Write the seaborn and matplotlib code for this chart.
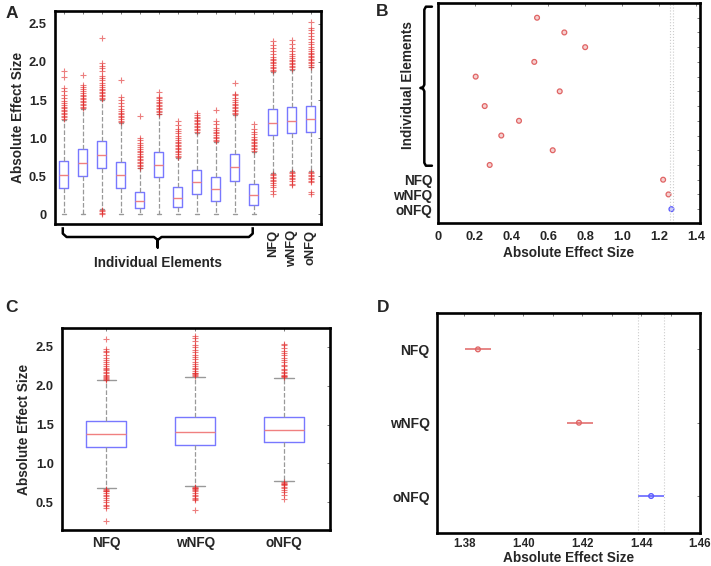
import numpy as np
import pandas as pd
import matplotlib
matplotlib.use("Agg")
import matplotlib.pyplot as plt
import matplotlib.transforms as mtransforms
from matplotlib.ticker import MultipleLocator
import seaborn as sns

# ---------------- data ----------------
# Panel A: 11 individual elements + NFQ, wNFQ, oNFQ
A_labels = ["", "", "", "", "", "", "", "", "", "", "", "NFQ", "wNFQ", "oNFQ"]
A_q1 = [0.34, 0.50, 0.60, 0.34, 0.08, 0.486, 0.10, 0.263, 0.17, 0.438, 0.114, 1.04, 1.064, 1.08]
A_med = [0.52, 0.67, 0.775, 0.517, 0.175, 0.652, 0.21, 0.425, 0.324, 0.613, 0.25, 1.204, 1.23, 1.248]
A_q3 = [0.696, 0.85, 0.96, 0.683, 0.29, 0.815, 0.355, 0.578, 0.486, 0.784, 0.394, 1.38, 1.405, 1.423]
A_wlo = [0.0, 0.0, 0.07, 0.0, 0.0, 0.0, 0.0, 0.0, 0.0, 0.0, 0.0, 0.54, 0.57, 0.57]
A_whi = [1.24, 1.38, 1.50, 1.20, 0.60, 1.31, 0.74, 1.07, 0.95, 1.30, 0.82, 1.87, 1.90, 1.93]
A_fliers = [
    [1.25, 1.27, 1.29, 1.31, 1.33, 1.35, 1.37, 1.39, 1.41, 1.43, 1.46, 1.49, 1.52, 1.57, 1.62, 1.66, 1.80, 1.88],
    [1.39, 1.41, 1.43, 1.45, 1.47, 1.49, 1.51, 1.53, 1.55, 1.57, 1.59, 1.62, 1.64, 1.67, 1.70, 1.83],
    [1.51, 1.53, 1.55, 1.57, 1.59, 1.61, 1.63, 1.65, 1.67, 1.70, 1.73, 1.76, 1.79, 1.82, 1.88, 1.92, 1.95, 1.98, 2.31,
     0.00, 0.02, 0.04, 0.05],
    [1.21, 1.23, 1.25, 1.27, 1.29, 1.31, 1.33, 1.35, 1.38, 1.42, 1.46, 1.50, 1.54, 1.76],
    [0.61, 0.63, 0.65, 0.67, 0.69, 0.71, 0.73, 0.75, 0.77, 0.79, 0.81, 0.83, 0.85, 0.88, 0.91, 0.94, 0.97, 1.00, 1.29],
    [1.32, 1.34, 1.36, 1.38, 1.40, 1.42, 1.44, 1.46, 1.48, 1.50, 1.52, 1.54, 1.61],
    [0.75, 0.77, 0.79, 0.81, 0.83, 0.85, 0.87, 0.89, 0.91, 0.93, 0.95, 0.97, 1.00, 1.03, 1.06, 1.09, 1.12, 1.17, 1.22],
    [1.08, 1.10, 1.12, 1.14, 1.16, 1.18, 1.20, 1.22, 1.24, 1.26, 1.28, 1.30, 1.33],
    [0.96, 0.98, 1.00, 1.02, 1.04, 1.06, 1.08, 1.10, 1.13, 1.18, 1.23, 1.37],
    [1.31, 1.33, 1.35, 1.37, 1.39, 1.41, 1.43, 1.45, 1.47, 1.50, 1.53, 1.56, 1.58, 1.73],
    [0.83, 0.85, 0.87, 0.89, 0.91, 0.93, 0.95, 0.97, 0.99, 1.02, 1.05, 1.08, 1.12, 1.18],
    [1.88, 1.90, 1.92, 1.94, 1.96, 1.98, 2.00, 2.02, 2.04, 2.06, 2.10, 2.14, 2.18, 2.22, 2.27,
     0.53, 0.51, 0.49, 0.47, 0.45, 0.43, 0.41, 0.38, 0.35, 0.31, 0.27],
    [1.91, 1.93, 1.95, 1.97, 1.99, 2.01, 2.03, 2.05, 2.08, 2.11, 2.15, 2.19, 2.24, 2.29,
     0.56, 0.54, 0.52, 0.50, 0.48, 0.46, 0.43, 0.40, 0.38],
    [1.94, 1.96, 1.98, 2.00, 2.02, 2.04, 2.06, 2.08, 2.10, 2.12, 2.14, 2.17, 2.20, 2.23, 2.26, 2.30, 2.34, 2.38,
     2.42, 2.45, 2.53, 0.56, 0.54, 0.52, 0.50, 0.48, 0.46, 0.44, 0.42, 0.29, 0.27],
]

# Panel B: group means (multiple comparison)
B_labels = ["", "", "", "", "", "", "", "", "", "", "", "NFQ", "wNFQ", "oNFQ"]
B_means = [0.539, 0.687, 0.80, 0.524, 0.206, 0.662, 0.255, 0.441, 0.345, 0.624, 0.282, 1.223, 1.252, 1.268]
B_highlight = ["no"] * 13 + ["yes"]
B_ref_lo = 1.262
B_ref_hi = 1.274

# Panel C: NFQ, wNFQ, oNFQ boxplots
C_labels = ["NFQ", "wNFQ", "oNFQ"]
C_q1 = [1.212, 1.238, 1.273]
C_med = [1.376, 1.406, 1.427]
C_q3 = [1.552, 1.594, 1.599]
C_wlo = [0.689, 0.706, 0.770]
C_whi = [2.071, 2.114, 2.097]
C_fliers = [
    [2.08, 2.09, 2.10, 2.11, 2.12, 2.14, 2.16, 2.18, 2.20, 2.21, 2.23, 2.25, 2.28, 2.30, 2.33, 2.36, 2.40, 2.43,
     2.45, 2.47, 2.60, 0.67, 0.66, 0.65, 0.64, 0.62, 0.60, 0.58, 0.56, 0.53, 0.50, 0.47, 0.45, 0.43, 0.255],
    [2.13, 2.14, 2.15, 2.16, 2.17, 2.19, 2.21, 2.23, 2.25, 2.28, 2.31, 2.34, 2.37, 2.40, 2.43, 2.46, 2.50, 2.53,
     2.58, 2.62, 2.64, 0.70, 0.69, 0.68, 0.67, 0.66, 0.64, 0.62, 0.60, 0.58, 0.56, 0.54, 0.53, 0.40],
    [2.11, 2.12, 2.13, 2.14, 2.16, 2.18, 2.20, 2.22, 2.25, 2.27, 2.30, 2.33, 2.36, 2.39, 2.42, 2.45, 2.48, 2.52,
     2.54, 0.76, 0.75, 0.74, 0.73, 0.72, 0.70, 0.68, 0.66, 0.63, 0.60, 0.54],
]

# Panel D: means with comparison intervals
D_labels = ["NFQ", "wNFQ", "oNFQ"]
D_means = [1.3846, 1.4189, 1.4434]
D_lo = [1.3803, 1.4149, 1.4391]
D_hi = [1.3891, 1.4236, 1.4478]
D_highlight = ["no", "no", "yes"]

# ---------------- style ----------------
sns.set_style("white")
plt.rcParams["font.family"] = ["Liberation Sans", "DejaVu Sans"]
plt.rcParams["font.weight"] = "bold"
plt.rcParams["axes.labelweight"] = "bold"

BOX_BLUE = "#7878ff"
MED_RED = "#f08080"
GRAY = "#999999"
FLIER_RED = "#e02828"
PT_RED = "#e06464"
PT_BLUE = "#5a5aff"
LABEL_FS = 9.8
TICK_FS = 9.3

W, H = 711, 566
fig = plt.figure(figsize=(W / 100, H / 100), dpi=100)


def ax_px(left, top, right, bottom):
    return fig.add_axes([left / W, 1 - bottom / H, (right - left) / W, (bottom - top) / H])


def frame(ax):
    for s in ax.spines.values():
        s.set_linewidth(1.9)
        s.set_color("black")
        s.set_visible(True)
    ax.tick_params(which="both", direction="in", length=2.5, width=0.6, color="#666666",
                   top=True, right=True, labelsize=TICK_FS)


def make_stats(q1, med, q3, wlo, whi, fliers):
    return [dict(q1=a, med=b, q3=c, whislo=d, whishi=e, fliers=f)
            for a, b, c, d, e, f in zip(q1, med, q3, wlo, whi, fliers)]


box_kw = dict(
    boxprops=dict(color=BOX_BLUE, lw=1.0),
    medianprops=dict(color=MED_RED, lw=1.0),
    whiskerprops=dict(color=GRAY, ls="--", lw=0.9),
    capprops=dict(color=GRAY, lw=1.0),
    flierprops=dict(marker="+", markeredgecolor=FLIER_RED, markersize=3.8, mew=0.8, alpha=0.6, ls="none"),
)

# ---------------- Panel A ----------------
axA = ax_px(55, 11, 320.7, 224)
posA = np.arange(1, len(A_med) + 1)
axA.bxp(make_stats(A_q1, A_med, A_q3, A_wlo, A_whi, A_fliers), positions=posA,
        widths=0.5, capwidths=0.2, **box_kw)
axA.set_xlim(0.54, 14.53)
axA.set_ylim(-0.13, 2.67)
axA.set_yticks([0, 0.5, 1.0, 1.5, 2.0, 2.5])
axA.set_yticklabels(["0", "0.5", "1.0", "1.5", "2.0", "2.5"])
axA.set_xticks(posA)
axA.set_xticklabels(A_labels, rotation=90)
axA.set_ylabel("Absolute Effect Size", fontsize=LABEL_FS, fontweight="bold", labelpad=3)
frame(axA)
axA.tick_params(axis="y", pad=6)
axA.tick_params(axis="x", pad=4, labelsize=9.3)

# bracket under individual elements
trA = mtransforms.blended_transform_factory(axA.transData, axA.transAxes)
bx = [0.95, 0.95, 1.15, 5.75, 5.95, 5.95, 5.95, 6.15, 10.75, 10.95, 10.95]
by = [-0.015, -0.045, -0.061, -0.061, -0.075, -0.11, -0.075, -0.061, -0.061, -0.045, -0.015]
axA.plot(bx, by, color="black", lw=1.8, transform=trA, clip_on=False, solid_capstyle="butt")
axA.text(5.95, -0.185, "Individual Elements", transform=trA, ha="center", va="center",
         fontsize=LABEL_FS, fontweight="bold")

# ---------------- Panel B ----------------
axB = ax_px(437.7, 3, 700, 222.7)
dfB = pd.DataFrame({"mean": B_means, "row": np.arange(1, len(B_means) + 1), "hl": B_highlight})
sns.scatterplot(data=dfB, x="mean", y="row", hue="hl", palette={"no": PT_RED, "yes": PT_BLUE},
                ax=axB, s=12, marker="o", linewidth=0.9, legend=False)
for coll in axB.collections:
    ec = coll.get_facecolors()
    coll.set_edgecolors(ec)
    coll.set_facecolors(np.c_[ec[:, :3], np.full(len(ec), 0.3)])
axB.axvline(B_ref_lo, color="#cccccc", ls=":", lw=0.8)
axB.axvline(B_ref_hi, color="#cccccc", ls=":", lw=0.8)
axB.set_xlim(0, 1.423)
axB.set_ylim(14.92, 0)
axB.set_yticks(np.arange(1, 15))
axB.set_yticklabels(B_labels)
axB.set_xticks([0, 0.2, 0.4, 0.6, 0.8, 1.0, 1.2, 1.4])
axB.set_xticklabels(["0", "0.2", "0.4", "0.6", "0.8", "1.0", "1.2", "1.4"])
axB.set_xlabel("Absolute Effect Size", fontsize=LABEL_FS, fontweight="bold", labelpad=2)
axB.set_ylabel("")
frame(axB)
axB.tick_params(axis="x", pad=6)
axB.tick_params(axis="y", pad=4, labelsize=9.8)

trB = mtransforms.blended_transform_factory(axB.transAxes, axB.transData)
cx = [-0.022, -0.045, -0.051, -0.051, -0.056, -0.066, -0.056, -0.051, -0.051, -0.045, -0.022]
cy = [0.25, 0.25, 0.45, 5.55, 5.72, 5.77, 5.82, 5.99, 10.85, 11.05, 11.05]
axB.plot(cx, cy, color="black", lw=1.8, transform=trB, clip_on=False)
axB.text(-0.112, 5.6, "Individual Elements", transform=trB, rotation=90, ha="center", va="center",
         fontsize=LABEL_FS, fontweight="bold")

# ---------------- Panel C ----------------
axC = ax_px(62, 328.3, 330, 530)
posC = np.arange(1, 4)
axC.bxp(make_stats(C_q1, C_med, C_q3, C_wlo, C_whi, C_fliers), positions=posC,
        widths=0.45, capwidths=0.22, **box_kw)
axC.set_xlim(0.5, 3.52)
axC.set_ylim(0.143, 2.74)
axC.set_yticks([0.5, 1.0, 1.5, 2.0, 2.5])
axC.set_yticklabels(["0.5", "1.0", "1.5", "2.0", "2.5"])
axC.set_xticks(posC)
axC.set_xticklabels(C_labels)
axC.set_ylabel("Absolute Effect Size", fontsize=LABEL_FS, fontweight="bold", labelpad=3)
frame(axC)
axC.tick_params(axis="y", pad=6)
axC.tick_params(axis="x", pad=4, labelsize=9.8)

# ---------------- Panel D ----------------
axD = ax_px(436.7, 312.7, 700, 532.7)
rowsD = np.arange(1, 4)
dfD = pd.DataFrame({"mean": D_means, "row": rowsD, "hl": D_highlight})
colsD = [PT_RED if h == "no" else PT_BLUE for h in D_highlight]
axD.hlines(rowsD, D_lo, D_hi, colors=colsD, lw=1.1)
sns.scatterplot(data=dfD, x="mean", y="row", hue="hl", palette={"no": PT_RED, "yes": PT_BLUE},
                ax=axD, s=12, marker="o", linewidth=0.9, legend=False)
for coll in axD.collections[1:]:
    ec = coll.get_facecolors()
    coll.set_edgecolors(ec)
    coll.set_facecolors(np.c_[ec[:, :3], np.full(len(ec), 0.3)])
axD.axvline(D_lo[2], color="#cccccc", ls=":", lw=0.8)
axD.axvline(D_hi[2], color="#cccccc", ls=":", lw=0.8)
axD.set_xlim(1.3706, 1.46)
axD.set_ylim(3.5, 0.5)
axD.set_yticks(rowsD)
axD.set_yticklabels(D_labels)
axD.set_xticks([1.38, 1.40, 1.42, 1.44, 1.46])
axD.set_xticklabels(["1.38", "1.40", "1.42", "1.44", "1.46"])
axD.xaxis.set_minor_locator(MultipleLocator(0.01))
axD.set_xlabel("Absolute Effect Size", fontsize=LABEL_FS, fontweight="bold", labelpad=0.5)
axD.set_ylabel("")
frame(axD)
axD.tick_params(axis="x", pad=4, labelsize=8.3)
axD.tick_params(axis="y", pad=5, labelsize=10)

# ---------------- panel letters ----------------
for letter, (px, py) in {"A": (12, 14), "B": (382, 12), "C": (12, 307), "D": (383, 307)}.items():
    fig.text(px / W, 1 - py / H, letter, fontsize=12.5, fontweight="bold", ha="center", va="center")

fig.savefig("out.png", dpi=100)
